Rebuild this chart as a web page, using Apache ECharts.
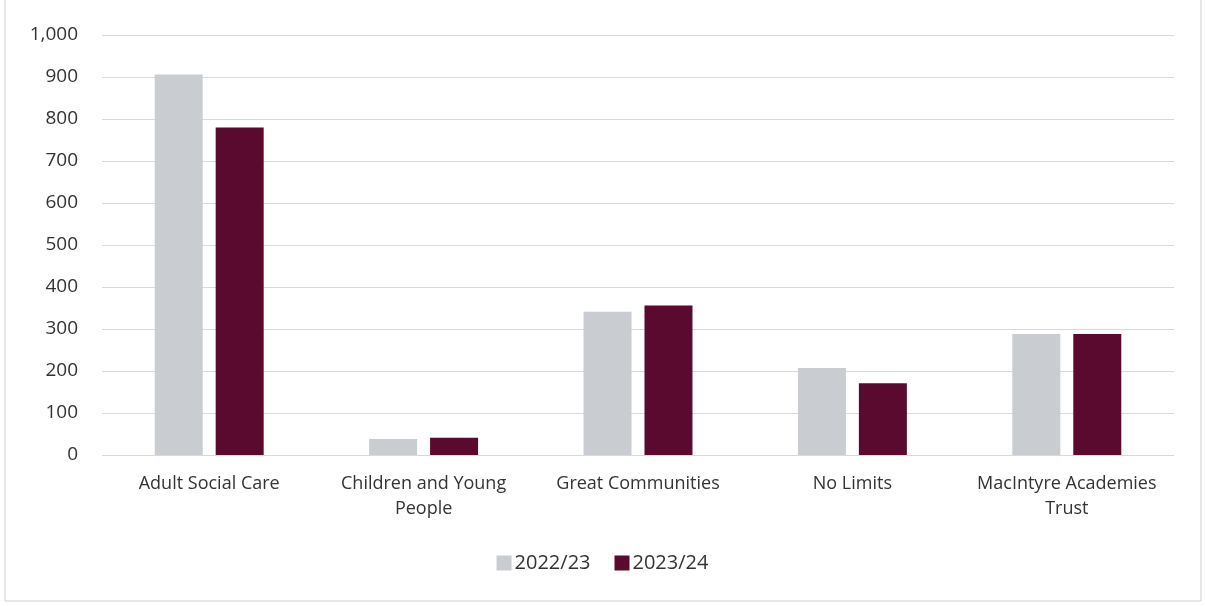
<!DOCTYPE html>
<html>
<head>
<meta charset="utf-8">
<script src="https://cdn.jsdelivr.net/npm/echarts@6/dist/echarts.min.js"></script>
<style>
html,body{margin:0;padding:0;background:#fff;}
#chart{width:1205px;height:606px;}
</style>
</head>
<body>
<div id="chart"></div>
<script>
const categories = ["Adult Social Care", "Children and Young People", "Great Communities", "No Limits", "MacIntyre Academies Trust"];
const series2022 = [906, 38, 341, 207, 288];
const series2023 = [780, 41, 356, 171, 288];
const seriesNames = ["2022/23", "2023/24"];
const yTicks = [0, 100, 200, 300, 400, 500, 600, 700, 800, 900, 1000];

const chart = echarts.init(document.getElementById('chart'));
const font = '"Open Sans", "Liberation Sans", sans-serif';
chart.setOption({
  animation: false,
  backgroundColor: '#ffffff',
  graphic: [{
    type: 'rect',
    shape: { x: 5, y: -5, width: 1196, height: 606 },
    style: { fill: 'none', stroke: '#d0d0d0', lineWidth: 1 }
  }],
  grid: { left: 102, right: 31, top: 35, bottom: 151, containLabel: false },
  legend: {
    data: seriesNames,
    bottom: 28,
    left: 'center',
    itemWidth: 15,
    itemHeight: 15,
    itemGap: 24,
    icon: 'rect',
    textStyle: { fontFamily: font, fontSize: 20, color: '#333333', padding: [0, 0, 0, -2] }
  },
  xAxis: {
    type: 'category',
    data: categories,
    axisLine: { show: false },
    axisTick: { show: false },
    axisLabel: {
      interval: 0,
      margin: 16,
      fontFamily: font,
      fontSize: 18,
      color: '#333333',
      lineHeight: 25,
      formatter: function (v) {
        return v.replace(' People', '\nPeople').replace(' Trust', '\nTrust');
      }
    }
  },
  yAxis: {
    type: 'value',
    min: yTicks[0],
    max: yTicks[yTicks.length - 1],
    interval: 100,
    axisLine: { show: false },
    axisTick: { show: false },
    splitLine: { lineStyle: { color: '#d9d9d9', width: 1 } },
    axisLabel: {
      margin: 24,
      fontFamily: font,
      fontSize: 19,
      color: '#333333',
      formatter: function (v) { return v.toLocaleString('en-US'); }
    }
  },
  series: [
    {
      name: seriesNames[0],
      type: 'bar',
      data: series2022,
      barWidth: 48,
      barGap: '27%',
      itemStyle: { color: '#c9ccd0' }
    },
    {
      name: seriesNames[1],
      type: 'bar',
      data: series2023,
      barWidth: 48,
      itemStyle: { color: '#5a0a2e' }
    }
  ]
});
</script>
</body>
</html>
